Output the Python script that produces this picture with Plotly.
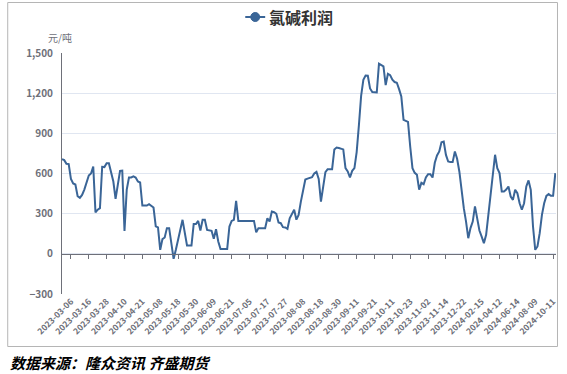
import plotly.graph_objects as go

# ---- data ----
series_name = "氯碱利润"
profit = [
    707, 700, 673, 670, 560, 525, 518, 430, 418, 440, 480, 540, 585, 600, 652, 310, 330, 341, 650, 648, 677, 677,
    600,
    540, 410, 520, 620, 622, 170, 480, 570, 570, 578, 570, 540, 533, 361, 361, 361, 371, 360, 346, 205, 197, 30,
    110, 122, 192, 192, 70, -37, 30, 95, 180, 254, 154, 62, 62, 62, 222, 222, 246, 174, 254, 254, 179,
    175,
    172, 112, 184, 92, 37, 37, 37, 37, 204, 246, 254, 396, 246, 246, 246, 246, 246, 246, 246, 246,
    160, 192, 192, 192, 192, 266, 241, 316, 311, 299, 234, 229, 199, 197, 187, 266, 304, 329, 255, 290, 390, 480, 555,
    562,
    570, 572, 600, 612, 560, 390, 500, 610, 632, 632, 632, 780, 794, 790, 786, 780, 640, 615, 570, 620, 640, 760,
    960, 1180, 1300, 1332, 1330, 1235, 1208, 1205, 1205, 1420, 1412, 1400, 1260, 1345, 1335, 1300, 1283, 1278,
    1230, 1175, 1000,
    990,
    985, 800, 640, 605, 590, 480, 530, 520, 570, 595, 595, 570, 680, 735, 765, 834, 839, 739, 690, 685, 685, 764,
    710, 615, 453, 341, 241, 117, 192, 241, 354, 254, 174, 129, 80, 142, 291, 466, 640, 740, 640, 603, 466, 466,
    480,
    503, 428, 403, 478, 453, 378, 329, 378, 503, 548, 478, 204, 30, 55, 154, 291, 378, 433, 446, 433, 433, 603,
]
tick_labels = [
    "2023-03-06", "2023-03-16", "2023-03-28", "2023-04-10", "2023-04-21", "2023-05-08", "2023-05-18",
    "2023-05-30", "2023-06-09", "2023-06-21", "2023-07-05", "2023-07-17", "2023-07-27", "2023-08-08",
    "2023-08-18", "2023-08-30", "2023-09-11", "2023-09-21", "2023-10-11", "2023-10-23", "2023-11-02",
    "2023-11-14", "2023-12-22", "2024-02-15", "2024-04-12", "2024-06-14", "2024-08-09", "2024-10-11",
]
first_label_index = 4
label_step = 8
y_ticks = [-300, 0, 300, 600, 900, 1200, 1500]
unit_text = "元/吨"
source_text = "数据来源：隆众资讯 齐盛期货"

# ---- layout constants ----
W, H = 567, 374
ML, MR, MT, MB = 62, 9, 53, 80
PW, PH = W - ML - MR, H - MT - MB


def px_x(px):
    return (px - ML) / PW


def px_y(py):
    return (H - MB - py) / PH


LINE_C = "#3A6597"
AXIS_C = "#6E7079"
GRID_C = "#E0E6F1"
FONT = "Noto Sans CJK SC"

x_idx = list(range(len(profit)))
tick_vals = [first_label_index + label_step * k for k in range(len(tick_labels))]
x_range = [0, len(profit) - 1 + 0.3]

fig = go.Figure()
fig.add_trace(go.Scatter(
    x=x_idx, y=profit, mode="lines", name=series_name,
    line=dict(color=LINE_C, width=2), showlegend=False,
    xaxis="x", yaxis="y",
))
# zero-line axis carrying tick marks
fig.add_trace(go.Scatter(x=[None], y=[None], xaxis="x2", yaxis="y",
                         showlegend=False, hoverinfo="skip"))

ymin, ymax = y_ticks[0], y_ticks[-1]
zero_pos = (0 - ymin) / (ymax - ymin)

fig.update_layout(
    width=W, height=H,
    margin=dict(l=ML, r=MR, t=MT, b=MB, pad=0),
    paper_bgcolor="white", plot_bgcolor="white",
    font=dict(family=FONT, color=AXIS_C),
    showlegend=False,
    xaxis=dict(
        range=x_range, tickmode="array", tickvals=tick_vals, ticktext=tick_labels,
        tickangle=-45, ticks="", showline=False, showgrid=False, zeroline=False,
        tickfont=dict(size=8.5, color=AXIS_C, family=FONT, weight="bold"),
    ),
    xaxis2=dict(
        range=x_range, overlaying="x", anchor="free", position=zero_pos, side="bottom",
        tickmode="array", tickvals=tick_vals, ticks="outside", ticklen=4, tickcolor=AXIS_C,
        showticklabels=False, showline=True, linecolor=AXIS_C, linewidth=1,
        showgrid=False, zeroline=False,
    ),
    yaxis=dict(
        range=[ymin, ymax], tickmode="array", tickvals=y_ticks, tickformat=",",
        showgrid=True, gridcolor=GRID_C, gridwidth=1, zeroline=False,
        showline=True, linecolor=AXIS_C, linewidth=1, ticks="", ticklabelstandoff=6,
        tickfont=dict(size=10, color=AXIS_C, family=FONT, weight="bold"),
    ),
)

shapes = [
    # outer frame
    dict(type="rect", xref="paper", yref="paper",
         x0=px_x(7.5), x1=px_x(559.5), y0=px_y(346.5), y1=px_y(2.5),
         line=dict(color="#B5B5B5", width=1), fillcolor="rgba(0,0,0,0)", layer="below"),
    # legend symbol
    dict(type="line", xref="paper", yref="paper",
         x0=px_x(246), x1=px_x(266), y0=px_y(17), y1=px_y(17),
         line=dict(color=LINE_C, width=2)),
    dict(type="circle", xref="paper", yref="paper",
         x0=px_x(251.5), x1=px_x(260.5), y0=px_y(21.5), y1=px_y(12.5),
         line=dict(color=LINE_C, width=1), fillcolor=LINE_C),
]
annotations = [
    dict(text=series_name, xref="paper", yref="paper", x=px_x(268), y=px_y(17),
         xanchor="left", yanchor="middle", showarrow=False,
         font=dict(size=16, color="#333333", family=FONT, weight="bold")),
    dict(text=unit_text, xref="paper", yref="paper", x=px_x(74), y=px_y(37),
         xanchor="right", yanchor="middle", showarrow=False,
         font=dict(size=10, color=AXIS_C, family=FONT)),
    dict(text="<b><i>" + source_text + "</i></b>", xref="paper", yref="paper",
         x=px_x(8), y=px_y(362), xanchor="left", yanchor="middle", showarrow=False,
         font=dict(size=15, color="#000000", family=FONT)),
]
fig.update_layout(shapes=shapes, annotations=annotations)

fig.write_html(
    "out.html",
    config={"displayModeBar": False},
    post_script="document.body.style.margin='0px';document.body.style.padding='0px';",
)
